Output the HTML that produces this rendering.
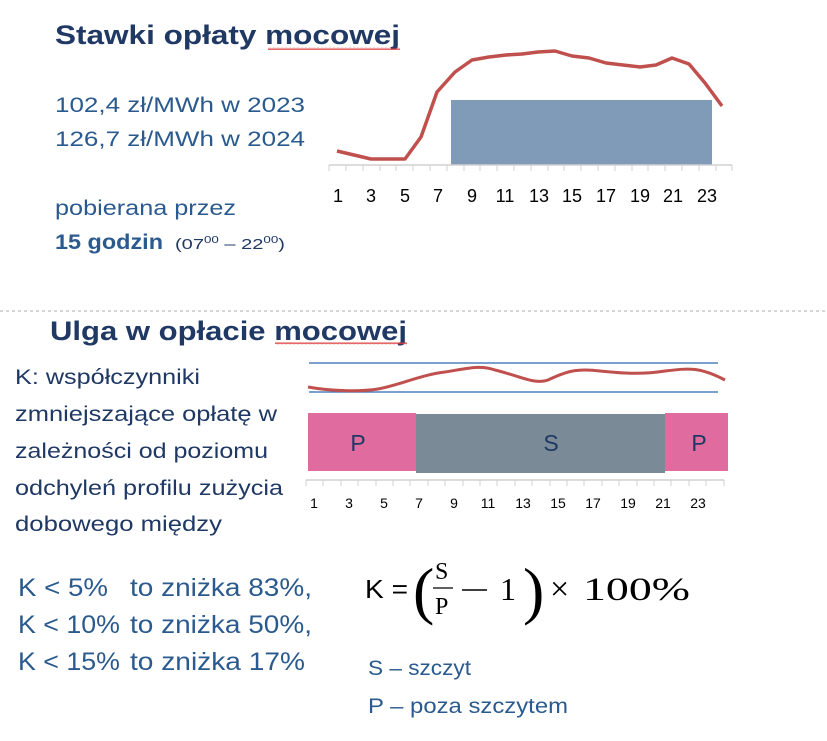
<!DOCTYPE html>
<html><head><meta charset="utf-8"><style>
html,body{margin:0;padding:0;background:#fff;}
svg{display:block;}
.t{font-family:"Liberation Sans",sans-serif;}
</style></head><body>
<svg width="827" height="741" viewBox="0 0 827 741" xmlns="http://www.w3.org/2000/svg">
<defs>
<pattern id="wv" width="4" height="3" patternUnits="userSpaceOnUse"><path d="M0 2 L1 0.5 L2 2 L3 0.5 L4 2" stroke="#e04040" stroke-width="0.8" fill="none"/></pattern>
</defs>
<g class="t" fill="#1f3864">
<text x="55" y="44" font-size="27" font-weight="bold" textLength="345" lengthAdjust="spacingAndGlyphs">Stawki opłaty mocowej</text>
<rect x="268" y="47" width="132" height="3" fill="url(#wv)"/>
</g>
<g class="t" fill="#2a5a8e" font-size="21">
<text x="55" y="112" textLength="250" lengthAdjust="spacingAndGlyphs">102,4 zł/MWh w 2023</text>
<text x="55" y="146" textLength="250" lengthAdjust="spacingAndGlyphs">126,7 zł/MWh w 2024</text>
<text x="55" y="215" textLength="181" lengthAdjust="spacingAndGlyphs">pobierana przez</text>
<text x="55" y="249" font-weight="bold" textLength="108" lengthAdjust="spacingAndGlyphs">15 godzin</text>
<text x="175" y="249" font-size="15" fill="#1f3864" textLength="110" lengthAdjust="spacingAndGlyphs">(07<tspan font-size="10" dy="-6">00</tspan><tspan dy="6"> – 22</tspan><tspan font-size="10" dy="-6">00</tspan><tspan dy="6">)</tspan></text>
</g>
<!-- top chart -->
<rect x="451" y="100" width="261" height="65" fill="#7f9bb8"/>
<line x1="329" y1="165" x2="732" y2="165" stroke="#d0d0d0" stroke-width="1.5"/>
<g stroke="#d0d0d0" stroke-width="1">
<line x1="329" y1="165" x2="329" y2="171"/><line x1="346" y1="165" x2="346" y2="171"/><line x1="363" y1="165" x2="363" y2="171"/><line x1="380" y1="165" x2="380" y2="171"/><line x1="396" y1="165" x2="396" y2="171"/><line x1="413" y1="165" x2="413" y2="171"/><line x1="430" y1="165" x2="430" y2="171"/><line x1="447" y1="165" x2="447" y2="171"/><line x1="464" y1="165" x2="464" y2="171"/><line x1="480" y1="165" x2="480" y2="171"/><line x1="497" y1="165" x2="497" y2="171"/><line x1="514" y1="165" x2="514" y2="171"/><line x1="531" y1="165" x2="531" y2="171"/><line x1="548" y1="165" x2="548" y2="171"/><line x1="564" y1="165" x2="564" y2="171"/><line x1="581" y1="165" x2="581" y2="171"/><line x1="598" y1="165" x2="598" y2="171"/><line x1="615" y1="165" x2="615" y2="171"/><line x1="632" y1="165" x2="632" y2="171"/><line x1="648" y1="165" x2="648" y2="171"/><line x1="665" y1="165" x2="665" y2="171"/><line x1="682" y1="165" x2="682" y2="171"/><line x1="699" y1="165" x2="699" y2="171"/><line x1="716" y1="165" x2="716" y2="171"/><line x1="732" y1="165" x2="732" y2="171"/>
</g>
<g class="t" font-size="18" fill="#000" text-anchor="middle">
<text x="338" y="202">1</text><text x="371" y="202">3</text><text x="405" y="202">5</text><text x="438" y="202">7</text><text x="472" y="202">9</text><text x="505" y="202">11</text><text x="539" y="202">13</text><text x="572" y="202">15</text><text x="606" y="202">17</text><text x="640" y="202">19</text><text x="673" y="202">21</text><text x="707" y="202">23</text>
</g>
<polyline fill="none" stroke="#c0504d" stroke-width="3.5" stroke-linejoin="round" points="337,151 354,155 371,159 388,159 405,159 421,137 437,92 455,72 472,60 489,57 506,55 522,54 538,52 555,51 572,56 589,58 606,63 623,65 640,67 656,65 672,58 689,64 705,83 722,106"/>
<!-- separator -->
<line x1="0" y1="311" x2="827" y2="311" stroke="#c8c8c8" stroke-width="1.5" stroke-dasharray="3,3"/>
<g class="t" fill="#1f3864">
<text x="50" y="340" font-size="27" font-weight="bold" textLength="357" lengthAdjust="spacingAndGlyphs">Ulga w opłacie mocowej</text>
<rect x="275" y="342" width="132" height="3" fill="url(#wv)"/>
</g>
<g class="t" fill="#1f3864" font-size="21">
<text x="15" y="384" textLength="185" lengthAdjust="spacingAndGlyphs">K: współczynniki</text>
<text x="15" y="421" textLength="262" lengthAdjust="spacingAndGlyphs">zmniejszające opłatę w</text>
<text x="15" y="458" textLength="253" lengthAdjust="spacingAndGlyphs">zależności od poziomu</text>
<text x="15" y="495" textLength="268" lengthAdjust="spacingAndGlyphs">odchyleń profilu zużycia</text>
<text x="15" y="531" textLength="207" lengthAdjust="spacingAndGlyphs">dobowego między</text>
</g>
<g class="t" fill="#2a5a8e" font-size="25">
<text x="18" y="596" textLength="90" lengthAdjust="spacingAndGlyphs">K &lt; 5%</text><text x="130" y="596" textLength="182" lengthAdjust="spacingAndGlyphs">to zniżka 83%,</text>
<text x="18" y="633" textLength="102" lengthAdjust="spacingAndGlyphs">K &lt; 10%</text><text x="130" y="633" textLength="182" lengthAdjust="spacingAndGlyphs">to zniżka 50%,</text>
<text x="18" y="670" textLength="102" lengthAdjust="spacingAndGlyphs">K &lt; 15%</text><text x="130" y="670" textLength="175" lengthAdjust="spacingAndGlyphs">to zniżka 17%</text>
</g>
<!-- bottom chart -->
<line x1="309" y1="363" x2="718" y2="363" stroke="#4f81bd" stroke-width="1.5"/>
<line x1="309" y1="392" x2="718" y2="392" stroke="#4f81bd" stroke-width="1.5"/>
<path d="M308,387 C330,391 360,392 378,389 C400,385 420,375 445,372 C470,368 480,365 495,370 C520,376 535,385 548,380 C565,372 575,368 600,371 C620,373 640,375 665,371 C690,368 700,367 725,380" fill="none" stroke="#c0504d" stroke-width="3"/>
<rect x="308" y="413" width="108" height="58" fill="#e06c9f"/>
<rect x="416" y="414" width="249" height="59" fill="#7a8a96"/>
<rect x="665" y="413" width="63" height="58" fill="#e06c9f"/>
<g class="t" fill="#1f3864" font-size="23" text-anchor="middle">
<text x="358" y="451">P</text><text x="551" y="451">S</text><text x="699" y="451">P</text>
</g>
<line x1="306" y1="480" x2="724" y2="480" stroke="#d0d0d0" stroke-width="1.5"/>
<g stroke="#d0d0d0" stroke-width="1">
<line x1="306" y1="480" x2="306" y2="486"/><line x1="323" y1="480" x2="323" y2="486"/><line x1="341" y1="480" x2="341" y2="486"/><line x1="358" y1="480" x2="358" y2="486"/><line x1="376" y1="480" x2="376" y2="486"/><line x1="393" y1="480" x2="393" y2="486"/><line x1="410" y1="480" x2="410" y2="486"/><line x1="428" y1="480" x2="428" y2="486"/><line x1="445" y1="480" x2="445" y2="486"/><line x1="463" y1="480" x2="463" y2="486"/><line x1="480" y1="480" x2="480" y2="486"/><line x1="497" y1="480" x2="497" y2="486"/><line x1="515" y1="480" x2="515" y2="486"/><line x1="532" y1="480" x2="532" y2="486"/><line x1="550" y1="480" x2="550" y2="486"/><line x1="567" y1="480" x2="567" y2="486"/><line x1="584" y1="480" x2="584" y2="486"/><line x1="602" y1="480" x2="602" y2="486"/><line x1="619" y1="480" x2="619" y2="486"/><line x1="637" y1="480" x2="637" y2="486"/><line x1="654" y1="480" x2="654" y2="486"/><line x1="671" y1="480" x2="671" y2="486"/><line x1="689" y1="480" x2="689" y2="486"/><line x1="706" y1="480" x2="706" y2="486"/><line x1="724" y1="480" x2="724" y2="486"/>
</g>
<g class="t" font-size="14" fill="#000" text-anchor="middle">
<text x="314" y="508">1</text><text x="349" y="508">3</text><text x="384" y="508">5</text><text x="419" y="508">7</text><text x="454" y="508">9</text><text x="488" y="508">11</text><text x="523" y="508">13</text><text x="558" y="508">15</text><text x="593" y="508">17</text><text x="628" y="508">19</text><text x="663" y="508">21</text><text x="698" y="508">23</text>
</g>
<!-- formula -->
<g fill="#000">
<text class="t" x="365" y="598" font-size="26" textLength="43" lengthAdjust="spacingAndGlyphs">K =</text>
<text x="413" y="612" font-size="64" font-family="Liberation Serif,serif" font-weight="200">(</text>
<text x="435" y="579" font-size="24" font-family="Liberation Serif,serif">S</text>
<line x1="433" y1="588" x2="453" y2="588" stroke="#000" stroke-width="1.3"/>
<text x="435" y="614" font-size="24" font-family="Liberation Serif,serif">P</text>
<line x1="462" y1="590" x2="487" y2="590" stroke="#000" stroke-width="1.6"/>
<text x="500" y="600" font-size="32" font-family="Liberation Serif,serif">1</text>
<text x="523" y="612" font-size="64" font-family="Liberation Serif,serif">)</text>
<text x="550" y="600" font-size="34" font-family="Liberation Serif,serif">×</text>
<text x="583" y="600" font-size="33" font-family="Liberation Serif,serif" textLength="107" lengthAdjust="spacingAndGlyphs">100%</text>
</g>
<g class="t" fill="#2a5a8e" font-size="21">
<text x="368" y="675" textLength="103" lengthAdjust="spacingAndGlyphs">S – szczyt</text>
<text x="368" y="713" textLength="200" lengthAdjust="spacingAndGlyphs">P – poza szczytem</text>
</g>
</svg>
</body></html>
